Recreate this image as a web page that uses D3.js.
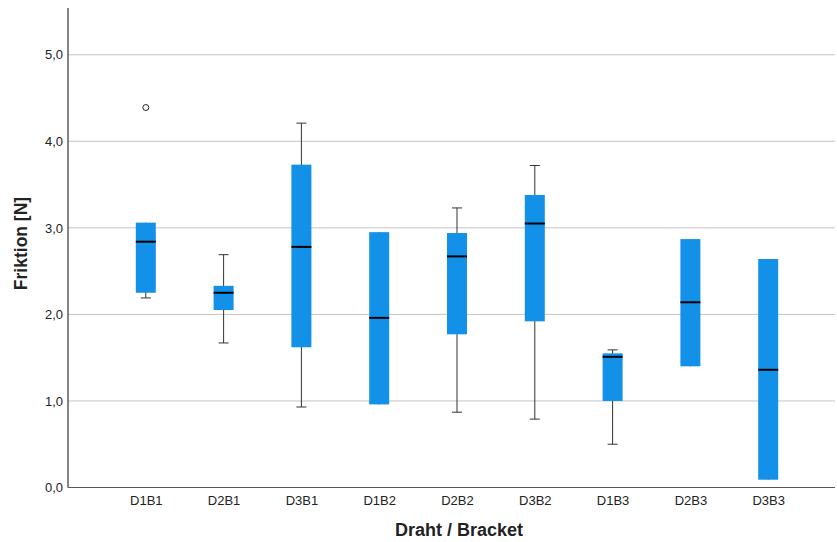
<!DOCTYPE html>
<html>
<head>
<meta charset="utf-8">
<script src="https://cdn.jsdelivr.net/npm/d3@7"></script>
<style>
  body { margin: 0; background: #fff; }
  svg { font-family: "Liberation Sans", Arial, sans-serif; }
</style>
</head>
<body>
<div id="chart"></div>
<script>
// Data
const groups = ["D1B1", "D2B1", "D3B1", "D1B2", "D2B2", "D3B2", "D1B3", "D2B3", "D3B3"];
const whiskerLow = [2.19, 1.67, 0.93, 0.96, 0.87, 0.79, 0.50, 1.40, 0.09];
const q1 = [2.25, 2.05, 1.62, 0.96, 1.77, 1.92, 1.00, 1.40, 0.09];
const median = [2.84, 2.25, 2.78, 1.96, 2.67, 3.05, 1.51, 2.14, 1.36];
const q3 = [3.06, 2.33, 3.73, 2.95, 2.94, 3.38, 1.55, 2.87, 2.64];
const whiskerHigh = [3.06, 2.69, 4.21, 2.95, 3.23, 3.72, 1.59, 2.87, 2.64];
const outliers = [{ group: "D1B1", value: 4.39 }];
const yTicks = [0, 1, 2, 3, 4, 5];

const width = 837, height = 542;
const plot = { left: 68, right: 835, top: 8, bottom: 487.5 };
const boxColor = "#1391e8";

const svg = d3.select("#chart").append("svg")
    .attr("width", width)
    .attr("height", height);

const x = d3.scalePoint()
    .domain(groups)
    .range([plot.left, 846])
    .padding(1);

const y = d3.scaleLinear()
    .domain([0, 5.54])
    .range([plot.bottom, plot.top]);

// Gridlines
svg.append("g")
    .selectAll("line")
    .data(yTicks.filter(d => d > 0))
    .enter().append("line")
    .attr("x1", plot.left)
    .attr("x2", plot.right)
    .attr("y1", d => y(d))
    .attr("y2", d => y(d))
    .attr("stroke", "#c4c4c4")
    .attr("stroke-width", 1);

// Y axis
const yAxis = svg.append("g")
    .attr("transform", `translate(${plot.left},0)`)
    .call(d3.axisLeft(y).tickValues(yTicks).tickSize(0).tickPadding(5)
        .tickFormat(d => d3.format(".1f")(d).replace(".", ",")));
yAxis.select(".domain").remove();
yAxis.selectAll("text").attr("font-size", 13).attr("fill", "#222").style("font-family", "Liberation Sans, Arial, sans-serif");

// X axis
const xAxis = svg.append("g")
    .attr("transform", `translate(0,${plot.bottom})`)
    .call(d3.axisBottom(x).tickSize(0).tickPadding(8));
xAxis.select(".domain").remove();
xAxis.selectAll("text").attr("font-size", 13).attr("fill", "#222").style("font-family", "Liberation Sans, Arial, sans-serif");

// Axis lines
svg.append("line")
    .attr("x1", plot.left).attr("x2", plot.left)
    .attr("y1", plot.top).attr("y2", plot.bottom)
    .attr("stroke", "#333").attr("stroke-width", 1.2);
svg.append("line")
    .attr("x1", plot.left).attr("x2", plot.right)
    .attr("y1", plot.bottom).attr("y2", plot.bottom)
    .attr("stroke", "#555").attr("stroke-width", 1.2);

// Boxes
const boxW = 20, capW = 10;
const boxes = groups.map((g, i) => ({
    group: g, lo: whiskerLow[i], q1: q1[i], med: median[i], q3: q3[i], hi: whiskerHigh[i]
}));

const bg = svg.append("g").selectAll("g")
    .data(boxes)
    .enter().append("g")
    .attr("transform", d => `translate(${x(d.group)},0)`);

// whisker stems
bg.append("line")
    .attr("y1", d => y(d.hi)).attr("y2", d => y(d.lo))
    .attr("stroke", "#333").attr("stroke-width", 1);
// caps
bg.filter(d => d.hi > d.q3).append("line")
    .attr("x1", -capW / 2).attr("x2", capW / 2)
    .attr("y1", d => y(d.hi)).attr("y2", d => y(d.hi))
    .attr("stroke", "#333").attr("stroke-width", 1);
bg.filter(d => d.lo < d.q1).append("line")
    .attr("x1", -capW / 2).attr("x2", capW / 2)
    .attr("y1", d => y(d.lo)).attr("y2", d => y(d.lo))
    .attr("stroke", "#333").attr("stroke-width", 1);

bg.append("rect")
    .attr("x", -boxW / 2)
    .attr("width", boxW)
    .attr("y", d => y(d.q3))
    .attr("height", d => y(d.q1) - y(d.q3))
    .attr("fill", boxColor);

bg.append("line")
    .attr("x1", -boxW / 2).attr("x2", boxW / 2)
    .attr("y1", d => y(d.med)).attr("y2", d => y(d.med))
    .attr("stroke", "#000").attr("stroke-width", 2);

// Outliers
svg.append("g").selectAll("circle")
    .data(outliers)
    .enter().append("circle")
    .attr("cx", d => x(d.group))
    .attr("cy", d => y(d.value))
    .attr("r", 3)
    .attr("fill", "none")
    .attr("stroke", "#222")
    .attr("stroke-width", 1);

// Axis titles
svg.append("text")
    .attr("x", 459)
    .attr("y", 536)
    .attr("text-anchor", "middle")
    .attr("font-size", 18)
    .attr("font-weight", "bold")
    .attr("fill", "#222")
    .text("Draht / Bracket");

svg.append("text")
    .attr("transform", "translate(27,243.5) rotate(-90)")
    .attr("text-anchor", "middle")
    .attr("font-size", 17.5)
    .attr("font-weight", "bold")
    .attr("fill", "#222")
    .text("Friktion [N]");
</script>
</body>
</html>
